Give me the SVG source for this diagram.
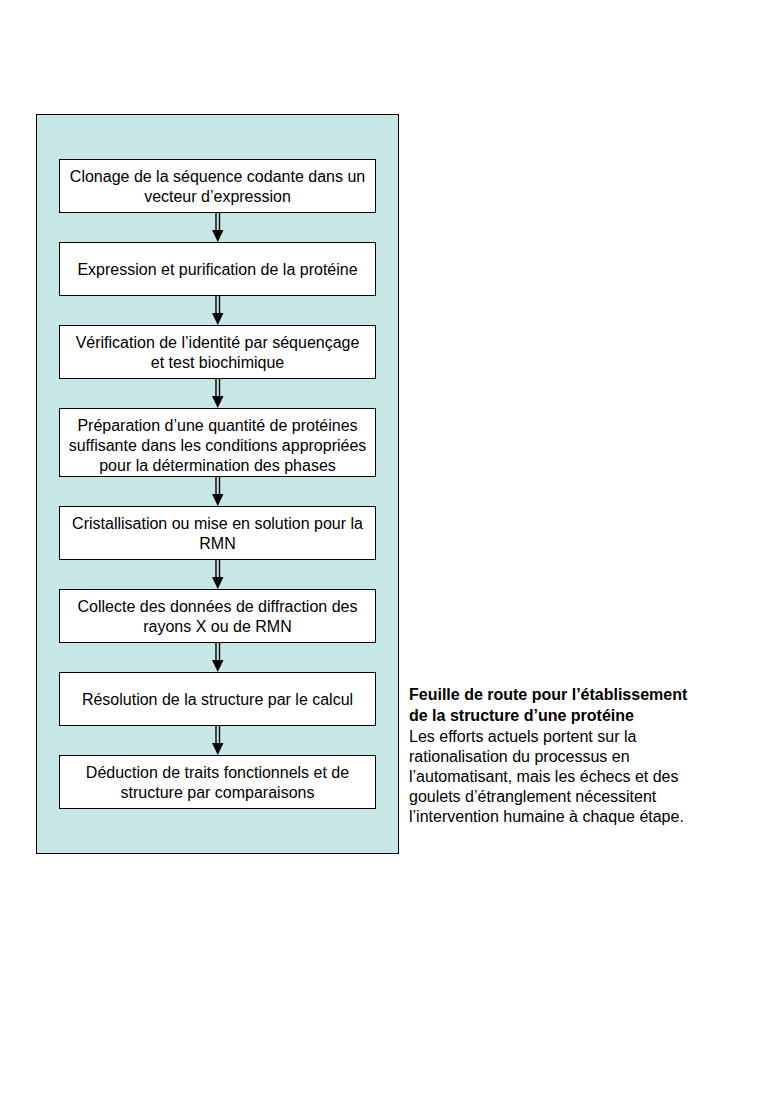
<svg xmlns="http://www.w3.org/2000/svg" width="764" height="1104" viewBox="0 0 764 1104">
<defs>
<style>
.bg{fill:#c6e7e5;stroke:#000;stroke-width:1}
.box{fill:#fff;stroke:#000;stroke-width:1}
.t{font-family:"Liberation Sans",Arial,sans-serif;font-size:16px;fill:#000;text-anchor:middle}
.c{font-family:"Liberation Sans",Arial,sans-serif;font-size:16px;fill:#000}
.b{font-weight:bold}
.ln{stroke:#000;stroke-width:1.4;fill:none}
</style>
</defs>
<rect width="764" height="1104" fill="#fff"/>
<rect id="panel" class="bg" x="36.5" y="114.5" width="362" height="739"/>
<g id="connectors">
<g><path class="ln" d="M216,212 V231 M219.5,212 V231"/><path d="M212,230 H223.5 L217.75,242 Z"/></g>
<g><path class="ln" d="M216,295 V314 M219.5,295 V314"/><path d="M212,313 H223.5 L217.75,325 Z"/></g>
<g><path class="ln" d="M216,378 V397 M219.5,378 V397"/><path d="M212,396 H223.5 L217.75,408 Z"/></g>
<g><path class="ln" d="M216,476 V495 M219.5,476 V495"/><path d="M212,494 H223.5 L217.75,506 Z"/></g>
<g><path class="ln" d="M216,559 V578 M219.5,559 V578"/><path d="M212,577 H223.5 L217.75,589 Z"/></g>
<g><path class="ln" d="M216,642 V661 M219.5,642 V661"/><path d="M212,660 H223.5 L217.75,672 Z"/></g>
<g><path class="ln" d="M216,725 V744 M219.5,725 V744"/><path d="M212,743 H223.5 L217.75,755 Z"/></g>
</g>
<g id="n1"><rect class="box" x="59.5" y="159.5" width="316" height="53"/><text class="t" x="217.5" y="182">Clonage de la séquence codante dans un</text><text class="t" x="217.5" y="202">vecteur d’expression</text></g>
<g id="n2"><rect class="box" x="59.5" y="242.5" width="316" height="53"/><text class="t" x="217.5" y="275">Expression et purification de la protéine</text></g>
<g id="n3"><rect class="box" x="59.5" y="325.5" width="316" height="53"/><text class="t" x="217.5" y="348">Vérification de l’identité par séquençage</text><text class="t" x="217.5" y="368">et test biochimique</text></g>
<g id="n4"><rect class="box" x="59.5" y="408.5" width="316" height="68"/><text class="t" x="217.5" y="431">Préparation d’une quantité de protéines</text><text class="t" x="217.5" y="451">suffisante dans les conditions appropriées</text><text class="t" x="217.5" y="471">pour la détermination des phases</text></g>
<g id="n5"><rect class="box" x="59.5" y="506.5" width="316" height="53"/><text class="t" x="217.5" y="529">Cristallisation ou mise en solution pour la</text><text class="t" x="217.5" y="549">RMN</text></g>
<g id="n6"><rect class="box" x="59.5" y="589.5" width="316" height="53"/><text class="t" x="217.5" y="612">Collecte des données de diffraction des</text><text class="t" x="217.5" y="632">rayons X ou de RMN</text></g>
<g id="n7"><rect class="box" x="59.5" y="672.5" width="316" height="53"/><text class="t" x="217.5" y="705">Résolution de la structure par le calcul</text></g>
<g id="n8"><rect class="box" x="59.5" y="755.5" width="316" height="53"/><text class="t" x="217.5" y="778">Déduction de traits fonctionnels et de</text><text class="t" x="217.5" y="798">structure par comparaisons</text></g>
<g id="caption">
<text class="c b" x="409" y="700">Feuille de route pour l’établissement</text>
<text class="c b" x="409" y="721">de la structure d’une protéine</text>
<text class="c" x="409" y="742">Les efforts actuels portent sur la</text>
<text class="c" x="409" y="762">rationalisation du processus en</text>
<text class="c" x="409" y="782">l’automatisant, mais les échecs et des</text>
<text class="c" x="409" y="802">goulets d’étranglement nécessitent</text>
<text class="c" x="409" y="822">l’intervention humaine à chaque étape.</text>
</g>
</svg>
